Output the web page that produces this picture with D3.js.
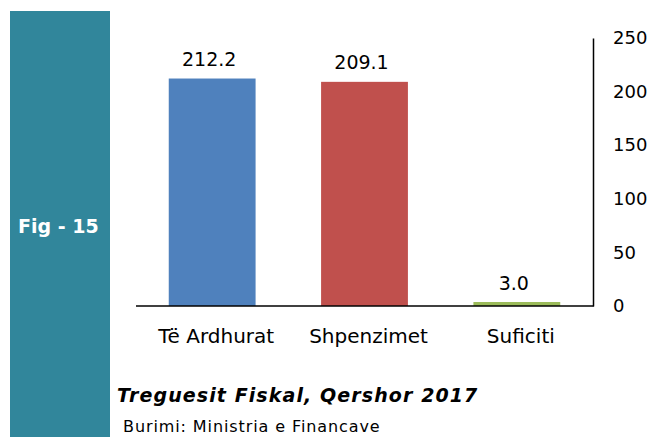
<!DOCTYPE html>
<html>
<head>
<meta charset="utf-8">
<script src="https://cdn.jsdelivr.net/npm/d3@7"></script>
<style>
  body { margin: 0; background: #fff; }
  svg { display: block; font-family: "DejaVu Sans", sans-serif; }
</style>
</head>
<body>
<svg width="670" height="437"></svg>
<script>
// te dhenat (mld leke)
const kategorite = ['Të Ardhurat', 'Shpenzimet', 'Suficiti'];
const vlerat = [212.2, 209.1, 3.0];
const ngjyrat = ['#4f81bd', '#c0504d', '#9bbb59'];
const tickVlerat = [0, 50, 100, 150, 200, 250];

const svg = d3.select('svg');

// panel anesor
svg.append('rect')
  .attr('x', 10).attr('y', 11)
  .attr('width', 100).attr('height', 426)
  .attr('fill', '#31869b');

svg.append('text')
  .attr('x', 18).attr('y', 233)
  .attr('fill', '#fff')
  .style('font-size', '19px')
  .style('font-weight', 'bold')
  .text('Fig - 15');

const mLeft = 136, mRight = 593, mTop = 38, mBottom = 306;

const x = d3.scaleBand()
  .domain(kategorite)
  .range([mLeft, mRight])
  .paddingInner(0.43)
  .paddingOuter(0.215);

const y = d3.scaleLinear()
  .domain([0, 250])
  .range([mBottom, mTop]);

const data = kategorite.map((k, i) => ({kat: k, v: vlerat[i], c: ngjyrat[i]}));

svg.selectAll('rect.bar').data(data)
  .enter().append('rect')
    .attr('class', 'bar')
    .attr('x', d => x(d.kat))
    .attr('y', d => Math.min(y(d.v), mBottom - 4))
    .attr('width', x.bandwidth())
    .attr('height', d => Math.max(mBottom - y(d.v), 4))
    .style('fill', d => d.c);

// boshti y ne te djathte
const yAxis = svg.append('g')
  .attr('transform', `translate(${mRight},0)`)
  .call(d3.axisRight(y).tickValues(tickVlerat).tickSize(0).tickSizeOuter(0).tickPadding(20));
yAxis.select('.domain').attr('stroke', '#000').attr('stroke-width', 1.5);
yAxis.selectAll('text')
  .attr('fill', '#000')
  .style('font-family', '"DejaVu Sans", sans-serif')
  .style('font-size', '18px');

// vija baze
svg.append('line')
  .attr('x1', mLeft).attr('x2', mRight + 0.75)
  .attr('y1', mBottom).attr('y2', mBottom)
  .attr('stroke', '#000').attr('stroke-width', 1.5);

// etiketat e vlerave
svg.selectAll('text.val').data(data)
  .enter().append('text')
    .attr('class', 'val')
    .attr('x', d => x(d.kat) + x.bandwidth() / 2 - 3)
    .attr('y', d => y(d.v) - 13)
    .attr('text-anchor', 'middle')
    .style('font-size', '19px')
    .text(d => d.v.toFixed(1));

// etiketat e kategorive
svg.selectAll('text.kat').data(data)
  .enter().append('text')
    .attr('class', 'kat')
    .attr('x', d => x(d.kat) + x.bandwidth() / 2 + 4)
    .attr('y', 343)
    .attr('text-anchor', 'middle')
    .style('font-size', '20px')
    .text(d => d.kat);

svg.append('text')
  .attr('x', 117).attr('y', 402)
  .style('font-size', '19px')
  .style('font-weight', 'bold')
  .style('font-style', 'italic')
  .style('letter-spacing', '1.1px')
  .text('Treguesit Fiskal, Qershor 2017');

svg.append('text')
  .attr('x', 123).attr('y', 432)
  .style('font-size', '16px')
  .style('letter-spacing', '0.9px')
  .text('Burimi: Ministria e Financave');
</script>
</body>
</html>
